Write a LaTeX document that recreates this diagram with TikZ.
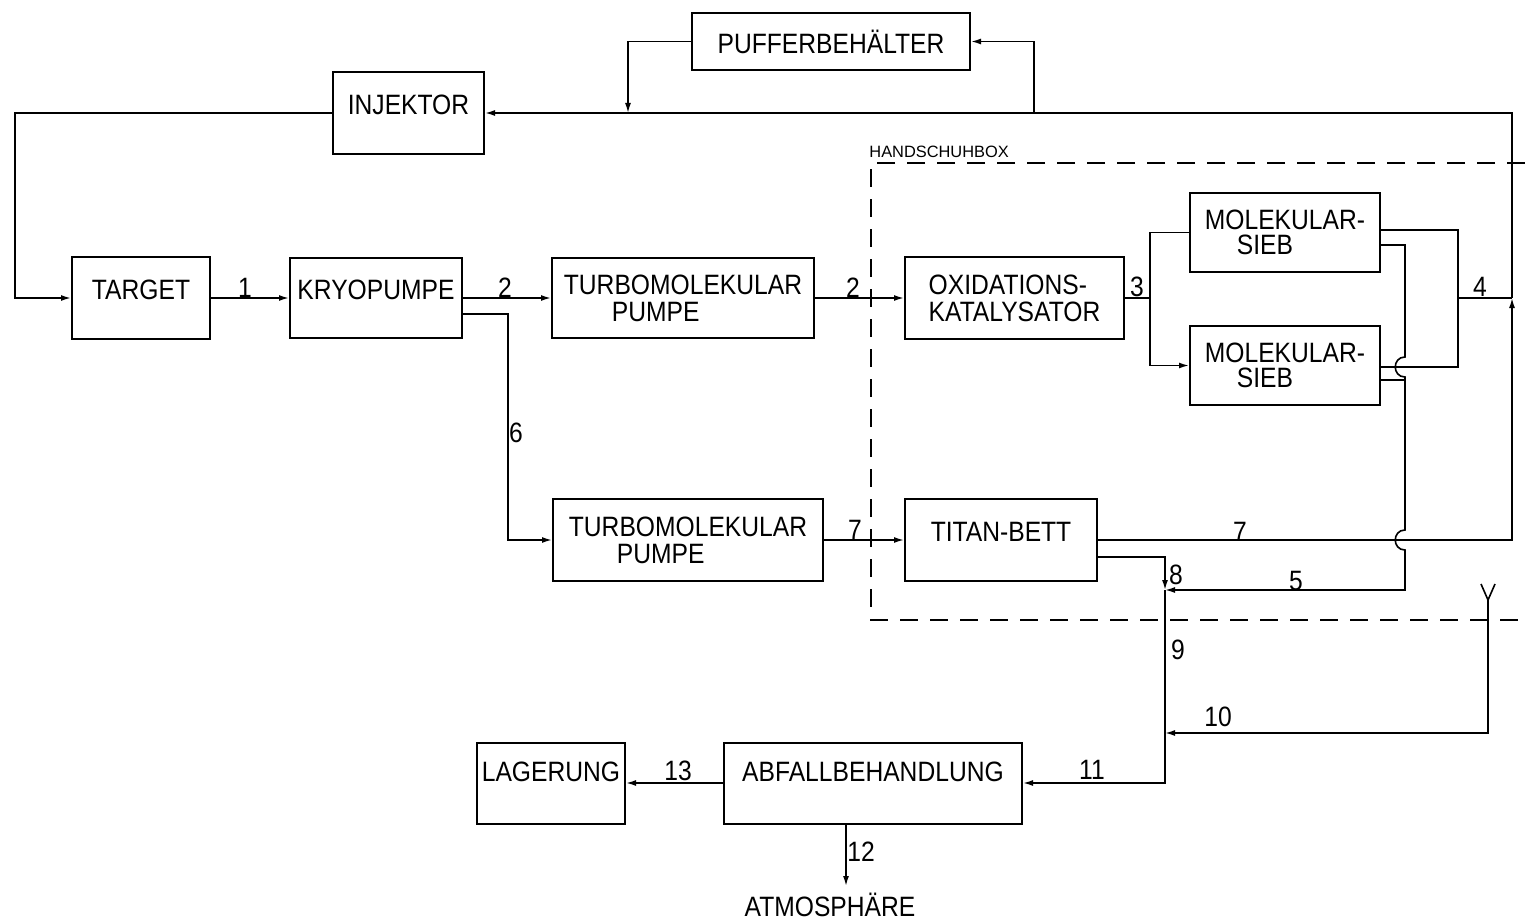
\documentclass[tikz,border=0pt]{standalone}
\usepackage{fontspec}
\setmainfont{Liberation Sans}[FakeStretch=0.88]
\newfontfamily\smallfam{Liberation Sans}
\usetikzlibrary{arrows.meta,calc}
\begin{document}
\begin{tikzpicture}[x=0.5pt,y=-0.5pt,
 box/.style={draw,line width=1pt,inner sep=0pt,font=\fontsize{14}{13.5}\selectfont,align=center},
 single/.style={text height=10pt,text depth=9pt},
 low/.style={text height=10pt,text depth=12pt},
 lbl/.style={font=\fontsize{14}{16}\selectfont,inner sep=0pt},
 conn/.style={line width=0.8pt},
 arr/.style={conn,-{Latex[length=5pt,width=3pt]}},
 hbox/.style={dash pattern=on 9pt off 6pt,line width=0.8pt}]
\useasboundingbox (0,0) rectangle (1525,920);

% boxes
\node[box,minimum width=139pt,minimum height=28.5pt] (puffer) at (831,41.5) {PUFFERBEHÄLTER};
\node[box,single,minimum width=75.5pt,minimum height=41pt] (inj) at (408.5,113) {INJEKTOR};
\node[box,single,minimum width=69pt,minimum height=41pt] (target) at (141,298) {TARGET};
\node[box,single,minimum width=86pt,minimum height=40pt] (kryo) at (376,298) {KRYOPUMPE};
\node[box,align=left,minimum width=131pt,minimum height=40pt] (turbo1) at (683,298) {TURBOMOLEKULAR\\\hspace*{24pt}PUMPE};
\node[box,align=left,minimum width=109.5pt,minimum height=41pt] (oxi) at (1014.5,298) {OXIDATIONS-\\KATALYSATOR};
\node[box,align=left,font=\fontsize{14}{12.5}\selectfont,minimum width=95pt,minimum height=39.5pt] (ms1) at (1285,232.5) {MOLEKULAR-\\\hspace*{16pt}SIEB};
\node[box,align=left,font=\fontsize{14}{12.5}\selectfont,minimum width=95pt,minimum height=39.5pt] (ms2) at (1285,365.5) {MOLEKULAR-\\\hspace*{16pt}SIEB};
\node[box,align=left,minimum width=135pt,minimum height=41pt] (turbo2) at (688,540) {TURBOMOLEKULAR\\\hspace*{24pt}PUMPE};
\node[box,single,minimum width=96pt,minimum height=41pt] (titan) at (1001,540) {TITAN-BETT};
\node[box,low,minimum width=74pt,minimum height=40.5pt] (lager) at (551,783) {LAGERUNG};
\node[box,low,minimum width=149pt,minimum height=40.5pt] (abfall) at (873,783) {ABFALLBEHANDLUNG};
\node[lbl] (atm) at (830,905) {ATMOSPHÄRE};
\node[font=\smallfam\fontsize{8.2}{10}\selectfont,anchor=south west,inner sep=0pt] (hsb) at (869,158) {HANDSCHUHBOX};

% handschuhbox boundary
\draw[hbox] (1525,163) -- (871,163) -- (871,620) -- (1525,620);

% junction coordinates
\coordinate (r0) at (1512,113);
\coordinate (r4) at (1512,298);
\coordinate (r7) at (1512,540);
\coordinate (j4) at (1458,298);
\coordinate (jp1) at (1034,113);
\coordinate (jp2) at (628,113);
\coordinate (jl) at (15,113);
\coordinate (j3) at (1150,298);
\coordinate (j6) at (508,314);
\coordinate (j8) at (1165,590);
\coordinate (j10) at (1165,733);
\coordinate (y0) at (1488,600);
\coordinate (a12) at (846,886);

% connectors
\draw[arr] (titan.east) -- (r7) -- (r4);
\draw[arr] (r4) -- (r0) -- (inj.east);
\draw[arr] (inj.west) -- (jl) |- (target.west);
\draw[arr] (jp1) |- (puffer.east);
\draw[arr] (puffer.west) -| (jp2);
\draw[arr] (target.east) -- (kryo.west);
\draw[arr] (kryo.east) -- (turbo1.west);
\draw[arr] ($(kryo.east)+(0,16)$) -- (j6) |- (turbo2.west);
\draw[arr] (turbo1.east) -- (oxi.west);
\draw[conn] (oxi.east) -- (j3);
\draw[conn] (j3) |- (ms1.west);
\draw[arr] (j3) |- (ms2.west);
\draw[conn] ($(ms1.east)+(0,-2.5)$) -| (j4) |- ($(ms2.east)+(0,1.5)$);
\draw[conn] (j4) -- (r4);
\draw[arr] ($(ms1.east)+(0,12.5)$) -- (1405,245) -- (1405,357)
   .. controls (1392,357) and (1392,377) .. (1405,377) -- (1405,530)
   .. controls (1392,530) and (1392,550) .. (1405,550) -- (1405,590) -- (j8);
\draw[conn] ($(ms2.east)+(0,14.5)$) -- (1405,380);
\draw[arr] (turbo2.east) -- (titan.west);
\draw[arr] ($(titan.east)+(0,17)$) -| (j8);
\draw[conn] (j8) -- (j10);
\draw[arr] (j10) |- (abfall.east);
\draw[conn] (1481,584) -- (y0) -- (1495,584);
\draw[arr] (y0) |- (j10);
\draw[arr] (abfall.west) -- (lager.east);
\draw[arr] (a12 |- abfall.south) -- (a12);

% line labels
\node[lbl] (l1) at (245,288) {1};
\node[lbl] (l2a) at (505,288) {2};
\node[lbl] (l2b) at (853,288) {2};
\node[lbl] (l3) at (1137,287) {3};
\node[lbl] (l4) at (1480,287) {4};
\node[lbl] (l6) at (516,433) {6};
\node[lbl] (l7a) at (855,530) {7};
\node[lbl] (l7b) at (1240,532) {7};
\node[lbl] (l8) at (1176,575) {8};
\node[lbl] (l5) at (1296,581) {5};
\node[lbl] (l9) at (1178,650) {9};
\node[lbl] (l10) at (1218,717) {10};
\node[lbl] (l11) at (1092,770) {11};
\node[lbl] (l13) at (678,771) {13};
\node[lbl] (l12) at (861,852) {12};
\end{tikzpicture}
\end{document}
